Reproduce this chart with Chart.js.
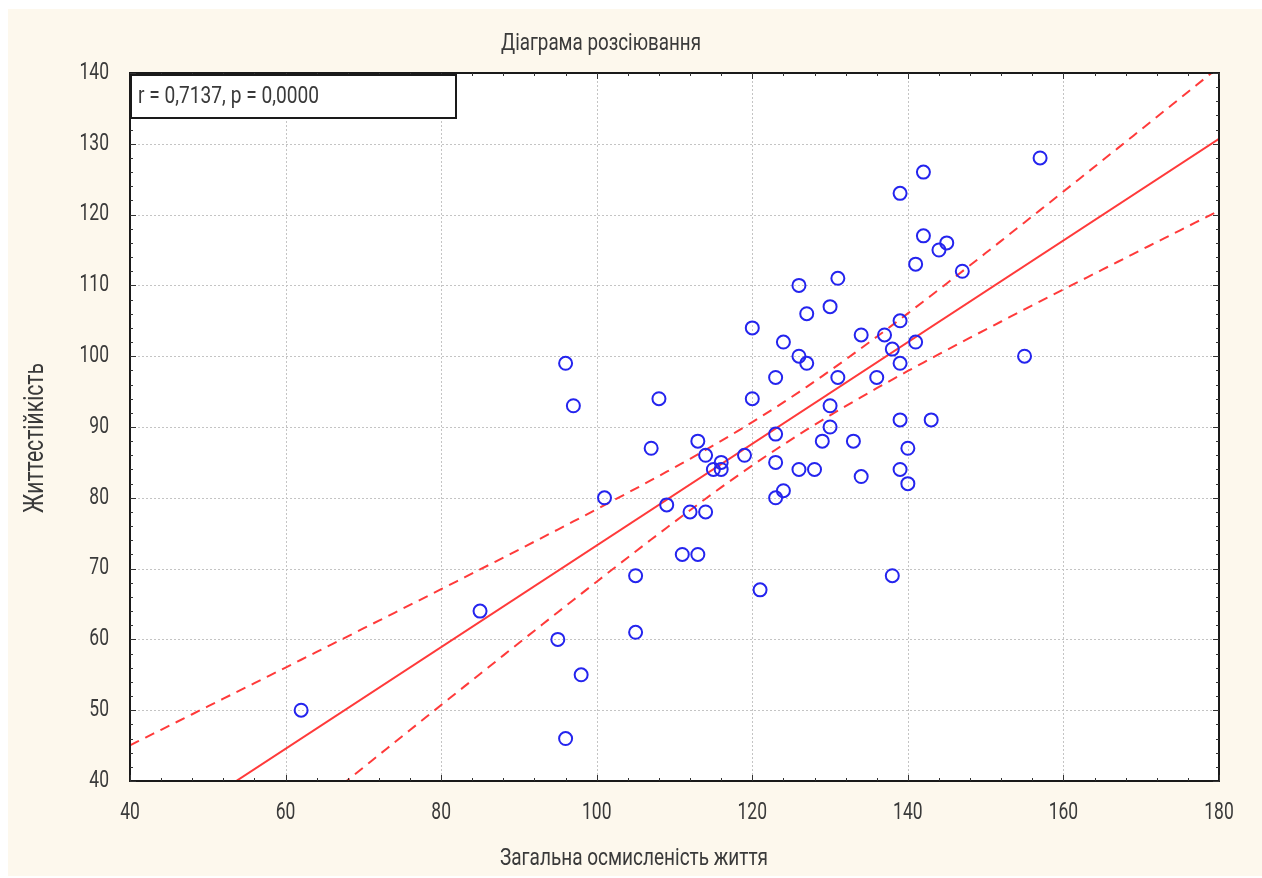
<!DOCTYPE html>
<html>
<head>
<meta charset="utf-8">
<script src="https://cdn.jsdelivr.net/npm/chart.js@4.4.1/dist/chart.umd.min.js"></script>
<style>
  html, body { margin: 0; padding: 0; background: #ffffff; }
  #wrap { width: 1262px; height: 878px; position: relative; }
</style>
</head>
<body>
<div id="wrap"><canvas id="c"></canvas></div>
<script>
// ---- Data ----
const chartTitle = "Діаграма розсіювання";
const xTitle = "Загальна осмисленість життя";
const yTitle = "Життестійкість";
const statsLabel = "r = 0,7137, p = 0,0000";

const meaningValues = [62,85,95,96,98,96,97,101,105,105,107,108,109,111,113,112,114,113,114,115,116,116,119,120,120,121,123,123,123,123,124,124,126,126,126,127,127,128,129,130,130,130,131,131,133,134,134,136,137,138,138,139,139,139,139,139,140,140,141,141,142,142,143,144,145,147,155,157];
const resilienceValues = [50,64,60,46,55,99,93,80,69,61,87,94,79,72,72,78,78,88,86,84,85,84,86,94,104,67,97,89,85,80,81,102,110,100,84,106,99,84,88,107,93,90,111,97,88,103,83,97,103,101,69,123,105,99,91,84,87,82,113,102,126,117,91,115,116,112,100,128];

const xTickLabels = [40,60,80,100,120,140,160,180];
const yTickLabels = [40,50,60,70,80,90,100,110,120,130,140];
const xMinorStep = 4;
const yMinorStep = 2;

// ---- Linear regression with 95% confidence band (computed from the data) ----
const n = meaningValues.length;
const mx = meaningValues.reduce((s,v)=>s+v,0)/n;
const my = resilienceValues.reduce((s,v)=>s+v,0)/n;
let sxx = 0, sxy = 0;
for (let i=0;i<n;i++){ sxx += (meaningValues[i]-mx)**2; sxy += (meaningValues[i]-mx)*(resilienceValues[i]-my); }
const slope = sxy/sxx;
const intercept = my - slope*mx;
let sse = 0;
for (let i=0;i<n;i++){ sse += (resilienceValues[i]-intercept-slope*meaningValues[i])**2; }
const se = Math.sqrt(sse/(n-2));
const tCrit = 1.9966;
const fitX = [];
for (let v = 40; v <= 180; v += 1) fitX.push(v);
const fitLine = [40,180].map(x=>({x, y: intercept + slope*x}));
const halfW = x => tCrit*se*Math.sqrt(1/n + (x-mx)**2/sxx);
const upperBand = fitX.map(x=>({x, y: intercept + slope*x + halfW(x)}));
const lowerBand = fitX.map(x=>({x, y: intercept + slope*x - halfW(x)}));

const points = meaningValues.map((x,i)=>({x, y: resilienceValues[i]}));

const TEXT = '#3a3a3a';
const FONT = 'Roboto, "Liberation Sans", sans-serif';

function drawText(ctx, s, x, y, size, o) {
  ctx.save();
  ctx.font = size + 'px ' + FONT;
  ctx.fillStyle = TEXT;
  ctx.textBaseline = 'middle';
  ctx.textAlign = 'left';
  const w = ctx.measureText(s).width;
  const sx = o.width ? o.width / w : (o.sx || 1);
  ctx.translate(x, y);
  if (o.rot) ctx.rotate(-Math.PI/2);
  ctx.scale(sx, 1);
  let off = 0;
  if (o.align === 'center') off = -w/2;
  else if (o.align === 'right') off = -w;
  ctx.fillText(s, off, 0);
  ctx.restore();
}

const decor = {
  id: 'decor',
  beforeDraw(chart) {
    const {ctx, chartArea: a} = chart;
    ctx.save();
    ctx.fillStyle = '#ffffff';
    ctx.fillRect(0,0,chart.width,chart.height);
    ctx.fillStyle = '#fdf8ed';
    ctx.fillRect(8, 9, chart.width-8, chart.height-11);
    ctx.fillStyle = '#ffffff';
    ctx.fillRect(a.left, a.top, a.right-a.left, a.bottom-a.top);
    // dotted grid
    const xs = chart.scales.x, ys = chart.scales.y;
    ctx.strokeStyle = '#c4c4c4';
    ctx.lineWidth = 1;
    ctx.setLineDash([2,2]);
    xTickLabels.forEach(v=>{
      if (v===xs.min || v===xs.max) return;
      const p = Math.round(xs.getPixelForValue(v))+0.5;
      ctx.beginPath(); ctx.moveTo(p, a.top); ctx.lineTo(p, a.bottom); ctx.stroke();
    });
    yTickLabels.forEach(v=>{
      if (v===ys.min || v===ys.max) return;
      const p = Math.round(ys.getPixelForValue(v))+0.5;
      ctx.beginPath(); ctx.moveTo(a.left, p); ctx.lineTo(a.right, p); ctx.stroke();
    });
    ctx.restore();
  },
  afterDraw(chart) {
    const {ctx, chartArea: a} = chart;
    const xs = chart.scales.x, ys = chart.scales.y;
    ctx.save();
    // frame
    ctx.strokeStyle = '#1a1a1a';
    ctx.lineWidth = 2;
    ctx.setLineDash([]);
    ctx.strokeRect(a.left, a.top, a.right-a.left, a.bottom-a.top);
    // ticks
    ctx.lineWidth = 1;
    ctx.strokeStyle = '#333';
    for (let v = xs.min; v <= xs.max + 1e-9; v += xMinorStep) {
      const p = Math.round(xs.getPixelForValue(v))+0.5;
      const major = xTickLabels.includes(v);
      const L = major ? 6 : 3;
      ctx.beginPath(); ctx.moveTo(p, a.bottom); ctx.lineTo(p, a.bottom-L); ctx.stroke();
      ctx.beginPath(); ctx.moveTo(p, a.top); ctx.lineTo(p, a.top+L); ctx.stroke();
    }
    for (let v = ys.min; v <= ys.max + 1e-9; v += yMinorStep) {
      const p = Math.round(ys.getPixelForValue(v))+0.5;
      const major = yTickLabels.includes(v);
      const L = major ? 6 : 3;
      ctx.beginPath(); ctx.moveTo(a.left, p); ctx.lineTo(a.left+L, p); ctx.stroke();
      ctx.beginPath(); ctx.moveTo(a.right, p); ctx.lineTo(a.right-L, p); ctx.stroke();
    }
    // tick labels
    xTickLabels.forEach(v=>{
      drawText(ctx, String(v), xs.getPixelForValue(v), 813, 23, {align:'center', sx:0.76});
    });
    yTickLabels.forEach(v=>{
      drawText(ctx, String(v), 109, ys.getPixelForValue(v), 23, {align:'right', sx:0.76});
    });
    // titles
    drawText(ctx, chartTitle, 601, 44, 23, {align:'center', width:200});
    drawText(ctx, xTitle, 634, 859, 23, {align:'center', width:268});
    drawText(ctx, yTitle, 36, 438, 27, {align:'center', rot:true, width:150});
    // stats box
    ctx.fillStyle = '#ffffff';
    ctx.fillRect(131, 75, 325, 43);
    ctx.strokeStyle = '#1a1a1a';
    ctx.lineWidth = 2;
    ctx.strokeRect(131, 75, 325, 43);
    drawText(ctx, statsLabel, 138, 97, 23, {align:'left', width:181});
    ctx.restore();
  }
};

new Chart(document.getElementById('c'), {
  type: 'scatter',
  data: {
    datasets: [
      { label: 'data', data: points, order: 0,
        pointStyle: 'circle', pointRadius: 6.5, pointHoverRadius: 6.5,
        pointBorderWidth: 2, borderColor: '#2424ee', backgroundColor: 'rgba(0,0,0,0)', showLine: false },
      { label: 'fit', data: fitLine, order: 1, showLine: true,
        borderColor: '#ff3a3a', borderWidth: 2, pointRadius: 0, fill: false },
      { label: 'upper', data: upperBand, order: 2, showLine: true,
        borderColor: '#ff3a3a', borderWidth: 2, borderDash: [10,7], pointRadius: 0, fill: false, tension: 0 },
      { label: 'lower', data: lowerBand, order: 3, showLine: true,
        borderColor: '#ff3a3a', borderWidth: 2, borderDash: [10,7], pointRadius: 0, fill: false, tension: 0 }
    ]
  },
  options: {
    responsive: true,
    maintainAspectRatio: false,
    animation: false,
    events: [],
    layout: { padding: { left: 0, top: 73, right: 43, bottom: 0 } },
    plugins: { legend: { display: false }, tooltip: { enabled: false }, title: { display: false } },
    scales: {
      x: { type: 'linear', min: 40, max: 180,
        ticks: { display: false }, grid: { display: false }, border: { display: false },
        afterFit(s) { s.height = 97; } },
      y: { type: 'linear', min: 40, max: 140,
        ticks: { display: false }, grid: { display: false }, border: { display: false },
        afterFit(s) { s.width = 130; } }
    }
  },
  plugins: [decor]
});
</script>
</body>
</html>
